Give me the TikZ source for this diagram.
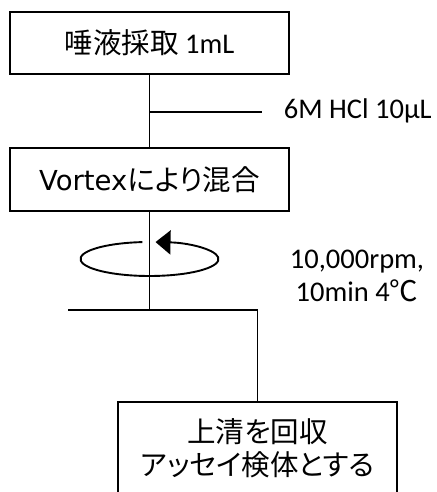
\documentclass[tikz,border=0pt]{standalone}
\usepackage{fontspec}
\setmainfont{Carlito}
\newfontfamily\jp[RawFeature=+palt]{Noto Sans CJK JP}
\newfontfamily\wide{DejaVu Sans}
\usetikzlibrary{arrows.meta}
\begin{document}
\begin{tikzpicture}[x=1pt,y=1pt,line width=1.9pt,
    stepbox/.style={draw, minimum width=279pt, inner sep=0pt, align=center, font=\fontsize{28.5}{33}\selectfont},
    note/.style={inner sep=0pt, align=center, font=\fontsize{28.5}{33}\selectfont}]
    \useasboundingbox (0,0) rectangle (436,492);

    % boxes
    \node[stepbox, minimum height=62pt] (saliva) at (149.5,449) {{\jp 唾液採取} 1mL};
    \node[stepbox, minimum height=63pt] (vortex) at (149.5,312.5) {{\wide\fontsize{27.5}{33}\selectfont Vortex}{\jp により混合}};
    \node[stepbox, minimum height=93pt] (super) at (257.5,43.5) {{\jp 上清を回収}\\{\jp アッセイ検体とする}};

    % HCl added
    \coordinate (hclend) at (262,380);
    \draw (saliva) -- (vortex);
    \draw (saliva.south |- hclend) -- (hclend);
    \node[note, anchor=west] (hcl) at (283,381) {6M HCl 10µL};

    % centrifuge
    \coordinate (spin) at (149.5,233);
    \coordinate (sepL) at (68,182);
    \coordinate (sepR) at (257.5,182);
    \draw (vortex.south) -- (vortex.south |- sepL);
    \draw[-{Triangle[length=15pt,width=24pt]}] ([shift={(96:69pt and 17pt)}]spin) arc[start angle=96, end angle=445, x radius=69pt, y radius=17pt];
    \node[note] (rpm) at (357,216) {10,000rpm,\\10min 4{\jp ℃}};
    \draw (sepL) -- (sepR) -- (super.north);

\end{tikzpicture}
\end{document}
